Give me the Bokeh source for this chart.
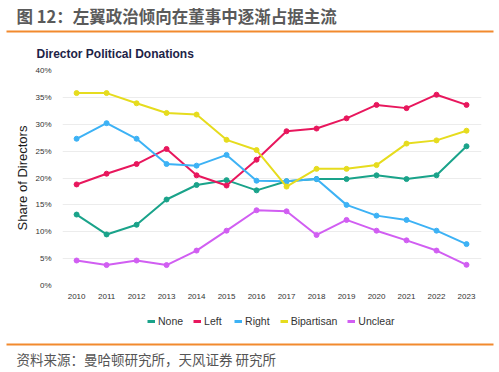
from bokeh.plotting import figure
from bokeh.models import Legend, LegendItem, FixedTicker, Range1d
from bokeh.core.properties import value
from bokeh.embed import file_html
from bokeh.resources import INLINE

years = list(range(2010, 2024))
none_vals = [13.2, 9.5, 11.3, 16.0, 18.7, 19.6, 17.7, 19.4, 19.8, 19.8, 20.5, 19.8, 20.5, 25.9]
left_vals = [18.8, 20.8, 22.6, 25.4, 20.5, 18.6, 23.4, 28.7, 29.2, 31.1, 33.6, 33.0, 35.5, 33.6]
right_vals = [27.3, 30.2, 27.3, 22.6, 22.3, 24.3, 19.5, 19.4, 19.8, 15.0, 13.0, 12.2, 10.2, 7.7]
bipartisan_vals = [35.8, 35.8, 33.9, 32.1, 31.8, 27.1, 25.2, 18.4, 21.7, 21.7, 22.4, 26.4, 27.0, 28.8]
unclear_vals = [4.65, 3.8, 4.65, 3.8, 6.5, 10.2, 14.0, 13.8, 9.4, 12.2, 10.2, 8.4, 6.5, 3.85]
series_names = ["None", "Left", "Right", "Bipartisan", "Unclear"]
y_ticks = [0, 5, 10, 15, 20, 25, 30, 35, 40]
header_text = "图 12：左翼政治倾向在董事中逐渐占据主流"
chart_title = "Director Political Donations"
source_text = "资料来源：曼哈顿研究所，天风证券 研究所"

colors = ["#1aa38a", "#e8175d", "#3db2f5", "#e6dc1e", "#d15ef2"]
series = [none_vals, left_vals, right_vals, bipartisan_vals, unclear_vals]
ORANGE = "#f28a2e"
W = 499


def blank(height):
    f = figure(width=W, height=height, output_backend="svg", toolbar_location=None,
               x_range=Range1d(0, W), y_range=Range1d(height, 0),
               min_border=0, min_border_left=0, min_border_right=0,
               min_border_top=0, min_border_bottom=0)
    f.axis.visible = False
    f.grid.visible = False
    f.outline_line_color = None
    return f


# header
HH = 62
hdr = blank(HH)
hdr.text(x=[16], y=[15], text=[header_text], text_font=value("Noto Sans CJK SC"),
         text_font_size="16.5px", text_font_style="bold", text_color="#5a5a5a",
         text_baseline="middle", text_align="left")
hdr.segment(x0=[6], y0=[31], x1=[493], y1=[31], line_color=ORANGE, line_width=2)
hdr.text(x=[36], y=[53], text=[chart_title], text_font=value("Liberation Sans"),
         text_font_size="12px", text_font_style="bold", text_color="#1d2347",
         text_baseline="middle", text_align="left")

# main chart
MH = 244
p = figure(width=W, height=MH, output_backend="svg", toolbar_location=None,
           x_range=(2009.53, 2023.5), y_range=(0, 40),
           min_border_left=62, min_border_right=18, min_border_top=8, min_border_bottom=21)
p.outline_line_color = None

for name, vals, c in zip(series_names, series, colors):
    p.line(years, vals, line_color=c, line_width=2)
    p.scatter(years, vals, size=5, fill_color=c, line_color=c)

p.xgrid.grid_line_color = None
p.ygrid.grid_line_color = "#ececec"
p.ygrid.grid_line_width = 1
p.yaxis.ticker = FixedTicker(ticks=y_ticks)
p.xaxis.ticker = FixedTicker(ticks=years)
p.yaxis.major_label_overrides = {t: f"{t}%" for t in y_ticks}
for ax in (p.xaxis, p.yaxis):
    ax.axis_line_color = None
    ax.major_tick_line_color = None
    ax.minor_tick_line_color = None
    ax.major_label_text_font = "Liberation Sans"
    ax.major_label_text_font_size = "8px"
    ax.major_label_text_color = "#333333"
p.xaxis.major_label_standoff = 2
p.yaxis.axis_label = "Share of Directors"
p.yaxis.axis_label_standoff = 2
p.yaxis.axis_label_text_font = "Liberation Sans"
p.yaxis.axis_label_text_font_style = "normal"
p.yaxis.axis_label_text_font_size = "13px"
p.yaxis.axis_label_text_color = "#1a1a1a"

# footer with legend
FH = 66
ftr = blank(FH)
items = []
for name, c in zip(series_names, colors):
    r = ftr.line(x=[-50, -40], y=[-50, -50], line_color=c, line_width=3)
    items.append(LegendItem(label=name, renderers=[r]))
legend = Legend(items=items, orientation="horizontal", location=(147, 45),
                label_text_font="Liberation Sans", label_text_font_size="10.5px",
                label_text_color="#333333", glyph_width=8, glyph_height=8,
                label_height=12, spacing=10, label_standoff=3, border_line_color=None,
                background_fill_alpha=0, margin=0, padding=0)
ftr.add_layout(legend, "center")
ftr.segment(x0=[6], y0=[38], x1=[493], y1=[38], line_color=ORANGE, line_width=2)
ftr.text(x=[16], y=[52], text=[source_text], text_font=value("Noto Sans CJK SC"),
         text_font_size="13.5px", text_color="#555555", text_baseline="middle", text_align="left")

open("out.html", "w").write(file_html([hdr, p, ftr], INLINE))
